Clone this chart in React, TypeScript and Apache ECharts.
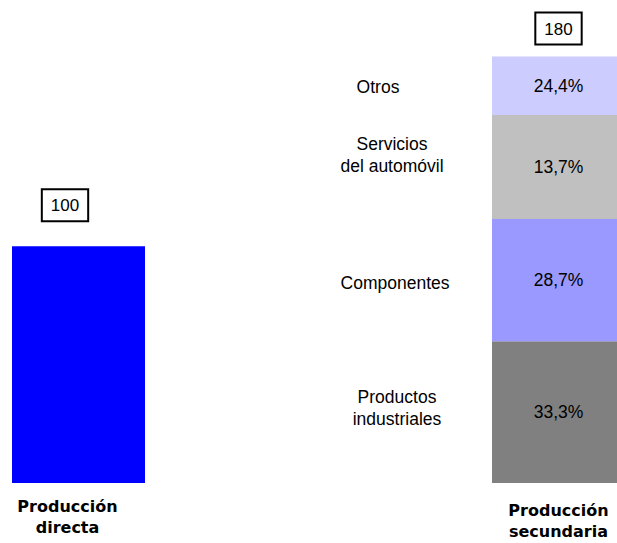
import React, { useEffect, useRef } from "react";
import * as echarts from "echarts";

const categories = ["Producción\ndirecta", "Producción\nsecundaria"];
const directValues = [100];
const totals = [100, 180];
const segmentNames = ["Productos\nindustriales", "Componentes", "Servicios\ndel automóvil", "Otros"];
// share of the 180 total as drawn (bottom to top)
const segmentShares = [33.3, 28.7, 24.4, 13.7];
const segmentLabels = ["33,3%", "28,7%", "13,7%", "24,4%"];
const segmentColors = ["#808080", "#9999FF", "#C0C0C0", "#CCCCFF"];

const FONT = "'Liberation Sans', Arial, Helvetica, sans-serif";
const BOLD_FONT = "'DejaVu Sans', 'Liberation Sans', sans-serif";

export default function App() {
  const ref = useRef<HTMLDivElement>(null);
  useEffect(() => {
    if (!ref.current) return;
    const chart = echarts.init(ref.current, null, { renderer: "svg" });
    const segValues = segmentShares.map((s) => (s * totals[1]) / 100);
    const mids: number[] = [];
    let acc = 0;
    segValues.forEach((v) => {
      mids.push(acc + v / 2);
      acc += v;
    });
    const nameOffsets = [
      [-161.5, -4],
      [-163.5, 3],
      [-166.5, -11.5],
      [-180.5, 1],
    ];
    const option: any = {
      animation: false,
      grid: {
        left: 78.5,
        right: 58.5,
        top: 57,
        bottom: 60,
        containLabel: false,
        outerBoundsMode: "none",
      },
      xAxis: {
        type: "category",
        boundaryGap: false,
        data: [
          { value: categories[0], textStyle: { padding: [0, 22, 0, 0] } },
          { value: categories[1], textStyle: { padding: [4, 0, 0, 0] } },
        ],
        axisLine: { show: false },
        axisTick: { show: false },
        splitLine: { show: false },
        axisLabel: {
          interval: 0,
          fontFamily: BOLD_FONT,
          fontWeight: "bold",
          fontSize: 16,
          lineHeight: 21,
          color: "#000",
          margin: 13,
        },
      },
      yAxis: { type: "value", min: 0, max: 180, show: false },
      series: [
        {
          type: "bar",
          stack: "s",
          barWidth: 133,
          clip: false,
          data: [directValues[0], "-"],
          itemStyle: { color: "#0000FF" },
        },
        ...segValues.map((v, i) => ({
          type: "bar",
          stack: "s",
          barWidth: 133,
          clip: false,
          data: ["-", v],
          itemStyle: { color: segmentColors[i] },
          label: {
            show: true,
            position: "inside",
            formatter: segmentLabels[i],
            fontFamily: FONT,
            fontSize: 17.5,
            color: "#000",
            textBorderWidth: 0,
          },
        })),
        {
          type: "scatter",
          symbolSize: 0,
          itemStyle: { color: "#000", opacity: 1 },
          z: 10,
          data: totals.map((t, i) => ({
            value: [i, t],
            label: { distance: i === 0 ? 26 : 13.5, offset: i === 0 ? [-13.5, 0] : [0, 0] },
          })),
          label: {
            show: true,
            position: "top",
            formatter: (p: any) => String(p.value[1]),
            fontFamily: FONT,
            fontSize: 17,
            color: "#000",
            backgroundColor: "#fff",
            borderColor: "#000",
            borderWidth: 2,
            padding: [7, 8, 6, 8],
          },
        },
        {
          type: "scatter",
          symbolSize: 0,
          itemStyle: { color: "#000", opacity: 1 },
          z: 10,
          data: mids.map((m, i) => ({
            value: [1, m],
            name: segmentNames[i],
            label: { offset: nameOffsets[i] },
          })),
          label: {
            show: true,
            position: "inside",
            formatter: "{b}",
            align: "center",
            verticalAlign: "middle",
            fontFamily: FONT,
            fontSize: 17.5,
            lineHeight: 22,
            color: "#000",
            textBorderWidth: 0,
          },
        },
      ],
    };
    chart.setOption(option);
    return () => chart.dispose();
  }, []);
  return (
    <div
      ref={ref}
      style={{ position: "fixed", left: 0, top: 0, width: 617, height: 543, background: "#fff" }}
    />
  );
}
